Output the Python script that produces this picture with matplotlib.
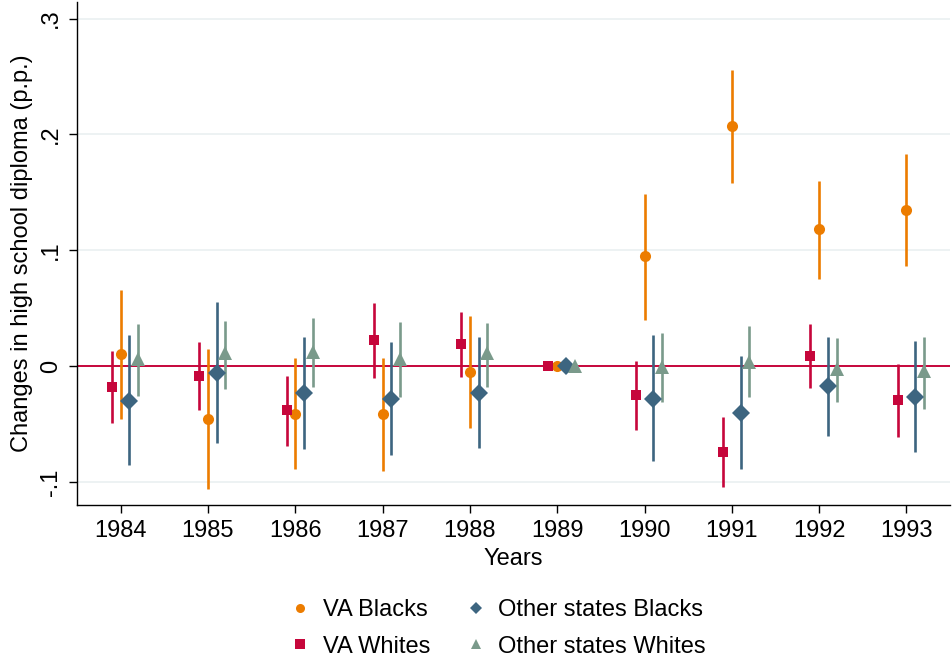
import numpy as np
import matplotlib
matplotlib.use("Agg")
import matplotlib.pyplot as plt

plt.rcParams['font.family'] = ['Liberation Sans', 'DejaVu Sans']

years = np.arange(1984, 1994)

# point estimates and 95% CI bounds
va_blacks = [0.0106, -0.0454, -0.041, -0.0414, -0.0049, 0.0, 0.0948, 0.2072, 0.118, 0.135]
va_blacks_lo = [-0.0457, -0.106, -0.089, -0.0905, -0.0529, 0.0, 0.0403, 0.158, 0.0756, 0.0865]
va_blacks_hi = [0.066, 0.0149, 0.0069, 0.0075, 0.0434, 0.0, 0.149, 0.2557, 0.160, 0.1833]

va_whites = [-0.0178, -0.0086, -0.038, 0.0224, 0.019, 0.0, -0.025, -0.0739, 0.0089, -0.0293]
va_whites_lo = [-0.049, -0.038, -0.0687, -0.0101, -0.0089, 0.0, -0.0552, -0.1046, -0.0187, -0.061]
va_whites_hi = [0.0129, 0.021, -0.0083, 0.0546, 0.0466, 0.0, 0.0049, -0.0437, 0.0368, 0.0015]

oth_blacks = [-0.030, -0.0057, -0.0233, -0.0279, -0.0227, 0.0, -0.0279, -0.040, -0.0172, -0.0264]
oth_blacks_lo = [-0.0853, -0.066, -0.0713, -0.0767, -0.0707, 0.0, -0.082, -0.0885, -0.0598, -0.0744]
oth_blacks_hi = [0.0267, 0.055, 0.0253, 0.021, 0.0256, 0.0, 0.0273, 0.0086, 0.025, 0.0218]

oth_whites = [0.0058, 0.011, 0.0124, 0.0066, 0.011, 0.0, -0.0006, 0.0037, -0.0026, -0.0043]
oth_whites_lo = [-0.0256, -0.020, -0.018, -0.027, -0.018, 0.0, -0.0307, -0.0264, -0.0313, -0.0368]
oth_whites_hi = [0.036, 0.039, 0.042, 0.038, 0.0374, 0.0, 0.029, 0.0345, 0.0241, 0.0256]

series = [
    ("VA Blacks", va_blacks, va_blacks_lo, va_blacks_hi, 0.0, '#ec7c00', 'o', 8),
    ("VA Whites", va_whites, va_whites_lo, va_whites_hi, -0.1, '#c6063b', 's', 7.2),
    ("Other states Blacks", oth_blacks, oth_blacks_lo, oth_blacks_hi, 0.1, '#3d6580', 'D', 9.5),
    ("Other states Whites", oth_whites, oth_whites_lo, oth_whites_hi, 0.2, '#7a9a8b', '^', 9.5),
]

FS = 17

fig = plt.figure(figsize=(9.53, 6.6), dpi=100)
ax = fig.add_axes([0.0808, 0.2348, 0.9162, 0.762])

for y in [-0.1, 0.1, 0.2, 0.3]:
    ax.axhline(y, color='#eaf0f1', lw=1.2, zorder=0)
ax.axhline(0, color='#c6063b', lw=1.4, zorder=1)

handles = []
for name, est, lo, hi, off, col, mk, ms in series:
    x = years + off
    ax.vlines(x, lo, hi, color=col, lw=1.9, zorder=2)
    h, = ax.plot(x, est, linestyle='none', marker=mk, color=col,
                 markersize=ms, markeredgewidth=0, zorder=3, label=name)
    handles.append(h)

ax.set_xlim(1983.5, 1993.5)
ax.set_ylim(-0.1198, 0.3142)
ax.set_xticks(years)
ax.set_xticklabels([str(y) for y in years])
ax.set_yticks([-0.1, 0, 0.1, 0.2, 0.3])
ax.set_yticklabels(['-.1', '0', '.1', '.2', '.3'], rotation=90, va='center')

for s in ['top', 'right']:
    ax.spines[s].set_visible(False)
ax.spines['left'].set_linewidth(1.0)
ax.spines['bottom'].set_linewidth(1.0)
ax.tick_params(direction='out', length=6, width=1, labelsize=FS, pad=5)

ax.set_xlabel('Years', fontsize=FS, labelpad=4)
ax.set_ylabel('Changes in high school diploma (p.p.)', fontsize=FS, labelpad=5)

leg = fig.legend(handles=handles, ncol=2, loc='center', bbox_to_anchor=(0.523, 0.048),
                 frameon=False, fontsize=FS, handlelength=0.8, handletextpad=0.55,
                 columnspacing=1.55, labelspacing=0.62)
for h in leg.legend_handles:
    h.set_markersize(6.5)

fig.savefig('out.png', dpi=100)
